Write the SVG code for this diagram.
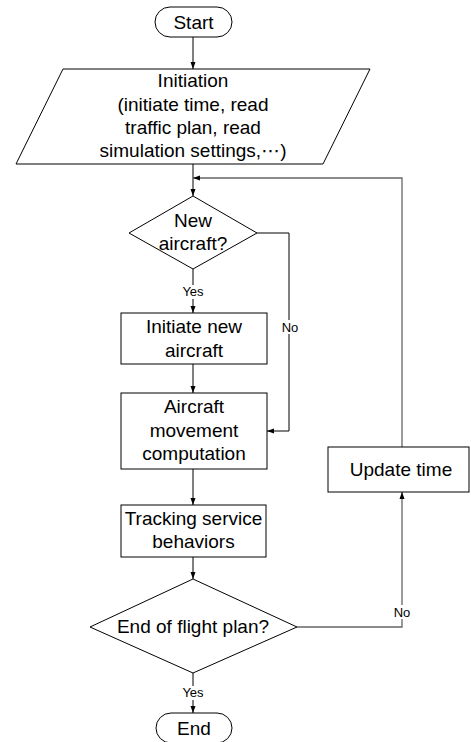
<svg xmlns="http://www.w3.org/2000/svg" width="471" height="742" viewBox="0 0 471 742">
<style>
.shape{fill:#fff;stroke:#000;stroke-width:1}
.t{font-family:"Liberation Sans",Arial,"Noto Sans CJK SC",sans-serif;font-size:19px;fill:#000;text-anchor:middle}
.ell{font-family:"DejaVu Sans",sans-serif}
.lbl{font-family:"Liberation Sans",Arial,sans-serif;font-size:13px;fill:#000;text-anchor:middle}
.c{fill:none;stroke:#000;stroke-width:1}
.g{fill:none;stroke:#666;stroke-width:1.3}
</style>
<defs>
<marker id="ah" viewBox="0 0 7 7" refX="7" refY="3.5" markerWidth="7" markerHeight="7" markerUnits="userSpaceOnUse" orient="auto">
<path d="M0,1 L7,3.5 L0,6 Z" fill="#000"/>
</marker>
</defs>
<rect width="471" height="742" fill="#fff"/>
<g id="connectors">
<line class="c" x1="193" y1="37" x2="193" y2="69" marker-end="url(#ah)"/>
<line class="c" x1="193" y1="164" x2="193" y2="196" marker-end="url(#ah)"/>
<line class="c" x1="193" y1="269" x2="193" y2="313" marker-end="url(#ah)"/>
<polyline class="c" points="257,233 289,233 289,431 267,431" marker-end="url(#ah)"/>
<line class="c" x1="193" y1="364" x2="193" y2="393" marker-end="url(#ah)"/>
<line class="c" x1="193" y1="469" x2="193" y2="505" marker-end="url(#ah)"/>
<line class="c" x1="193" y1="557" x2="193" y2="579" marker-end="url(#ah)"/>
<line class="c" x1="193" y1="673" x2="193" y2="713" marker-end="url(#ah)"/>
<polyline class="g" points="297,627 402,627 402,492" marker-end="url(#ah)"/>
<polyline class="g" points="402,447 402,178 193,178" marker-end="url(#ah)"/>
<rect x="180" y="285" width="26" height="14" fill="#fff"/>
<text class="lbl" x="193" y="296">Yes</text>
<rect x="280" y="320" width="20" height="14" fill="#fff"/>
<text class="lbl" x="290" y="332">No</text>
<rect x="392" y="605" width="20" height="14" fill="#fff"/>
<text class="lbl" x="402" y="617">No</text>
<rect x="180" y="686" width="26" height="14" fill="#fff"/>
<text class="lbl" x="193" y="697">Yes</text>
</g>
<g id="start">
<rect class="shape" x="155" y="7" width="77" height="30" rx="15"/>
<text class="t" x="193.5" y="29">Start</text>
</g>
<g id="initiation">
<polygon class="shape" points="63,69 370,69 323,164 16,164"/>
<text class="t" x="193" y="87">Initiation</text>
<text class="t" x="193" y="111">(initiate time, read</text>
<text class="t" x="193" y="134">traffic plan, read</text>
<text class="t" x="193" y="157">simulation settings,<tspan class="ell">⋯</tspan>)</text>
</g>
<g id="new-aircraft">
<polygon class="shape" points="193,196 257,233 193,269 129,233"/>
<text class="t" x="193" y="227">New</text>
<text class="t" x="193" y="250">aircraft?</text>
</g>
<g id="initiate-new">
<rect class="shape" x="121" y="313" width="146" height="51"/>
<text class="t" x="194" y="333">Initiate new</text>
<text class="t" x="194" y="357">aircraft</text>
</g>
<g id="movement">
<rect class="shape" x="121" y="393" width="146" height="76"/>
<text class="t" x="194" y="413">Aircraft</text>
<text class="t" x="194" y="437">movement</text>
<text class="t" x="194" y="460">computation</text>
</g>
<g id="tracking">
<rect class="shape" x="121" y="505" width="145" height="52"/>
<text class="t" x="193.5" y="525">Tracking service</text>
<text class="t" x="193.5" y="548">behaviors</text>
</g>
<g id="end-of-plan">
<polygon class="shape" points="193,579 297,627 193,673 90,627"/>
<text class="t" x="193" y="633">End of flight plan?</text>
</g>
<g id="update-time">
<rect class="shape" x="328" y="447" width="141" height="45"/>
<text class="t" x="401" y="476">Update time</text>
</g>
<g id="end">
<rect class="shape" x="156" y="713" width="76" height="30" rx="15"/>
<text class="t" x="194" y="735">End</text>
</g>
</svg>
